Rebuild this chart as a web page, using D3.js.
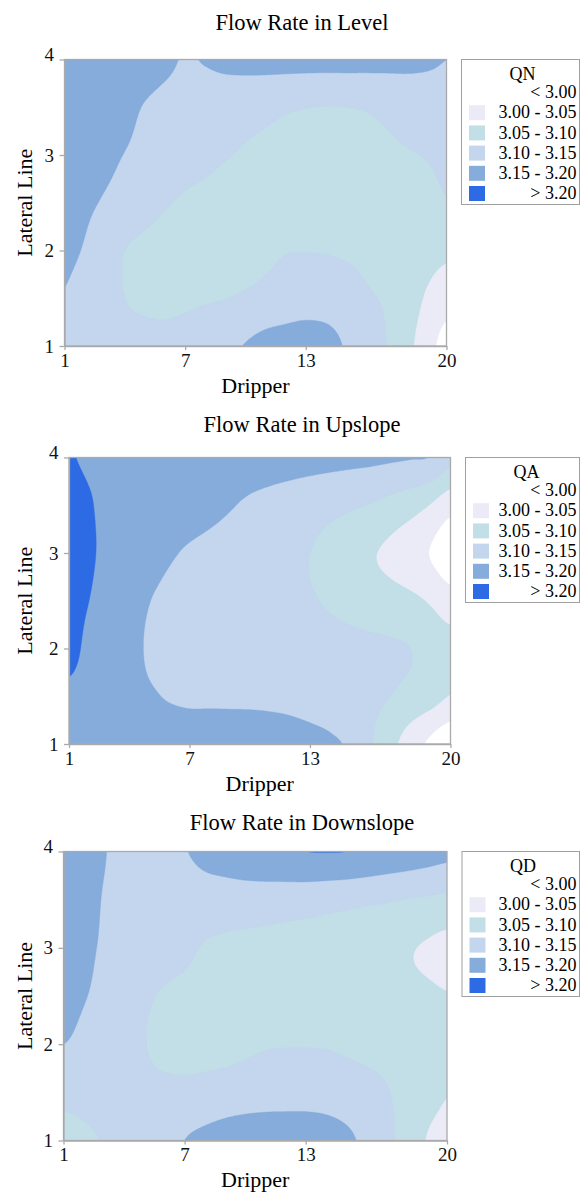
<!DOCTYPE html>
<html>
<head>
<meta charset="utf-8">
<script src="https://cdn.jsdelivr.net/npm/d3@7"></script>
<style>
body { margin: 0; background: #fff; }
svg { display: block; font-family: "Liberation Serif", "Times New Roman", serif; }
</style>
</head>
<body>
<svg id="chart" width="580" height="1193"></svg>
<script>
// positions at which the maps were read
const drippers = d3.range(1, 21);
const laterals = [1, 1.5, 2, 2.5, 3, 3.5, 4];

const thresholds = [3.00, 3.05, 3.10, 3.15, 3.20];
const bandLabels = ["< 3.00", "3.00 - 3.05", "3.05 - 3.10", "3.10 - 3.15", "3.15 - 3.20", "> 3.20"];
const bandColors = ["#ffffff", "#ebebf8", "#c2dfe8", "#c4d6ee", "#86acdb", "#2d6be5"];

const xTicks = [1, 7, 13, 20];
const yTicks = [1, 2, 3, 4];

// one row per lateral position (1 -> 4), one value per dripper (1 -> 20)
const qn = [
	[3.14, 3.13, 3.12, 3.115, 3.112, 3.112, 3.118, 3.13, 3.14, 3.152, 3.165, 3.172, 3.178, 3.172, 3.145, 3.122, 3.10, 3.065, 3.023, 2.98],
	[3.148, 3.135, 3.12, 3.10, 3.093, 3.09, 3.092, 3.096, 3.099, 3.106, 3.114, 3.12, 3.124, 3.122, 3.117, 3.105, 3.095, 3.075, 3.045, 3.022],
	[3.158, 3.147, 3.125, 3.10, 3.09, 3.083, 3.08, 3.078, 3.078, 3.082, 3.09, 3.098, 3.099, 3.098, 3.095, 3.09, 3.082, 3.075, 3.068, 3.06],
	[3.17, 3.158, 3.146, 3.133, 3.118, 3.104, 3.094, 3.088, 3.082, 3.078, 3.075, 3.073, 3.072, 3.072, 3.073, 3.075, 3.078, 3.082, 3.088, 3.097],
	[3.18, 3.172, 3.16, 3.149, 3.14, 3.13, 3.12, 3.112, 3.103, 3.095, 3.09, 3.087, 3.085, 3.085, 3.087, 3.09, 3.093, 3.097, 3.102, 3.108],
	[3.185, 3.178, 3.17, 3.16, 3.148, 3.14, 3.135, 3.13, 3.125, 3.118, 3.112, 3.105, 3.101, 3.099, 3.1, 3.103, 3.11, 3.118, 3.124, 3.13],
	[3.19, 3.185, 3.18, 3.175, 3.167, 3.157, 3.148, 3.152, 3.158, 3.162, 3.164, 3.165, 3.165, 3.165, 3.165, 3.164, 3.162, 3.16, 3.156, 3.15]
];

const qa = [
	[3.19, 3.187, 3.183, 3.18, 3.177, 3.175, 3.173, 3.172, 3.17, 3.168, 3.166, 3.163, 3.16, 3.155, 3.143, 3.105, 3.065, 3.025, 2.99, 2.96],
	[3.192, 3.185, 3.175, 3.165, 3.155, 3.147, 3.143, 3.143, 3.143, 3.143, 3.142, 3.14, 3.135, 3.128, 3.12, 3.11, 3.10, 3.085, 3.07, 3.048],
	[3.213, 3.19, 3.18, 3.165, 3.145, 3.14, 3.135, 3.132, 3.13, 3.128, 3.126, 3.123, 3.12, 3.116, 3.113, 3.11, 3.106, 3.10, 3.085, 3.07],
	[3.215, 3.20, 3.185, 3.17, 3.151, 3.14, 3.133, 3.128, 3.125, 3.122, 3.12, 3.11, 3.104, 3.095, 3.085, 3.075, 3.068, 3.06, 3.045, 3.02],
	[3.225, 3.205, 3.192, 3.18, 3.168, 3.155, 3.145, 3.138, 3.132, 3.126, 3.12, 3.113, 3.10, 3.085, 3.07, 3.055, 3.04, 3.02, 2.998, 2.97],
	[3.215, 3.203, 3.19, 3.185, 3.18, 3.175, 3.17, 3.162, 3.153, 3.144, 3.137, 3.13, 3.122, 3.114, 3.106, 3.098, 3.085, 3.07, 3.048, 3.017],
	[3.202, 3.195, 3.19, 3.185, 3.18, 3.178, 3.176, 3.174, 3.172, 3.17, 3.168, 3.166, 3.164, 3.162, 3.16, 3.158, 3.155, 3.152, 3.148, 3.115]
];

const qd = [
	[3.08, 3.092, 3.102, 3.11, 3.12, 3.13, 3.15, 3.16, 3.167, 3.172, 3.175, 3.177, 3.177, 3.172, 3.16, 3.138, 3.11, 3.085, 3.048, 3.035],
	[3.115, 3.116, 3.115, 3.113, 3.112, 3.112, 3.113, 3.118, 3.124, 3.128, 3.13, 3.13, 3.13, 3.128, 3.122, 3.115, 3.103, 3.085, 3.068, 3.052],
	[3.15, 3.14, 3.13, 3.12, 3.102, 3.086, 3.082, 3.081, 3.082, 3.09, 3.096, 3.098, 3.098, 3.097, 3.093, 3.088, 3.083, 3.078, 3.073, 3.068],
	[3.16, 3.152, 3.14, 3.125, 3.108, 3.095, 3.088, 3.083, 3.08, 3.078, 3.076, 3.075, 3.074, 3.073, 3.072, 3.07, 3.067, 3.063, 3.058, 3.052],
	[3.17, 3.158, 3.146, 3.138, 3.13, 3.122, 3.112, 3.096, 3.09, 3.087, 3.085, 3.083, 3.08, 3.078, 3.075, 3.07, 3.065, 3.055, 3.045, 3.035],
	[3.178, 3.165, 3.148, 3.14, 3.135, 3.132, 3.13, 3.13, 3.128, 3.127, 3.125, 3.122, 3.12, 3.116, 3.112, 3.108, 3.104, 3.099, 3.095, 3.09],
	[3.185, 3.17, 3.152, 3.14, 3.135, 3.138, 3.148, 3.16, 3.17, 3.18, 3.188, 3.195, 3.2, 3.201, 3.2, 3.193, 3.185, 3.178, 3.17, 3.162]
];

const panels = [
	{ title: "Flow Rate in Level", key: "QN", grid: qn, left: 64.5, right: 446.5, top: 59.5, bottom: 346, titleY: 29.5, labelY: 393 },
	{ title: "Flow Rate in Upslope", key: "QA", grid: qa, left: 69, right: 450.5, top: 457.5, bottom: 744, titleY: 431.5, labelY: 791 },
	{ title: "Flow Rate in Downslope", key: "QD", grid: qd, left: 63.5, right: 447, top: 851.5, bottom: 1140.5, titleY: 829.5, labelY: 1187 }
];

var nx = 380, ny = 300;

// catmull-rom between evenly spaced samples, t in sample units
function catmull(vals, t) {
	let n = vals.length,
		i = Math.min(Math.floor(t), n - 2),
		u = t - i;
	let p0 = vals[Math.max(i - 1, 0)], p1 = vals[i], p2 = vals[i + 1], p3 = vals[Math.min(i + 2, n - 1)];
	return 0.5 * (2 * p1 + (p2 - p0) * u + (2 * p0 - 5 * p1 + 4 * p2 - p3) * u * u + (3 * p1 - p0 - 3 * p2 + p3) * u * u * u);
}

function smooth(grid) {
	let dx = drippers[1] - drippers[0], dy = laterals[1] - laterals[0],
		x0 = drippers[0], x1 = drippers[drippers.length - 1],
		y0 = laterals[0], y1 = laterals[laterals.length - 1];
	let fine = grid.map(row => d3.range(nx).map(i => catmull(row, (x0 + (i + 0.5) / nx * (x1 - x0) - x0) / dx)));
	let values = new Float64Array(nx * ny);
	for (let i = 0; i < nx; i++) {
		let col = fine.map(r => r[i]);
		for (let j = 0; j < ny; j++)
			values[j * nx + i] = catmull(col, (y0 + (j + 0.5) / ny * (y1 - y0) - y0) / dy);
	}
	return values;
}

var svg = d3.select("#chart");

panels.forEach((p, k) => {
	let g = svg.append("g");

	let x = d3.scaleLinear().domain(d3.extent(drippers)).range([p.left, p.right]),
		y = d3.scaleLinear().domain(d3.extent(laterals)).range([p.bottom, p.top]);

	let [xa, xb] = x.domain(), [ya, yb] = y.domain();
	let path = d3.geoPath(d3.geoTransform({
		point(px, py) { this.stream.point(x(xa + px / nx * (xb - xa)), y(ya + py / ny * (yb - ya))); }
	}));

	g.append("clipPath")
		.attr("id", `clip${k}`)
		.append("rect")
			.attr("x", p.left).attr("y", p.top)
			.attr("width", p.right - p.left).attr("height", p.bottom - p.top);

	let map = g.append("g").attr("clip-path", `url(#clip${k})`);
	map.append("rect")
		.attr("x", p.left).attr("y", p.top)
		.attr("width", p.right - p.left).attr("height", p.bottom - p.top)
		.attr("fill", bandColors[0]);

	let contours = d3.contours().size([nx, ny]).thresholds(thresholds)(smooth(p.grid));
	map.selectAll("path")
		.data(contours)
		.enter().append("path")
		.attr("d", path)
		.attr("fill", (d, i) => bandColors[i + 1])
		.attr("stroke", (d, i) => bandColors[i + 1])
		.attr("stroke-width", 0.4);

	g.append("rect")
		.attr("x", p.left).attr("y", p.top)
		.attr("width", p.right - p.left).attr("height", p.bottom - p.top)
		.attr("fill", "none")
		.attr("stroke", "#aaaaaa")
		.attr("stroke-width", 1.3);

	let xAxis = g.append("g")
		.attr("transform", `translate(0, ${p.bottom})`)
		.call(d3.axisBottom(x).tickValues(xTicks).tickSize(4).tickSizeOuter(0).tickPadding(3.5).tickFormat(d3.format("d")));
	let yAxis = g.append("g")
		.attr("transform", `translate(${p.left}, 0)`)
		.call(d3.axisLeft(y).tickValues(yTicks).tickSize(5).tickSizeOuter(0).tickPadding(5.5).tickFormat(d3.format("d")));

	for (let a of [xAxis, yAxis]) {
		a.attr("font-family", null).attr("font-size", null);
		a.select(".domain").attr("stroke", "#aaaaaa").attr("stroke-width", 1.3);
		a.selectAll(".tick line").attr("stroke", "#aaaaaa").attr("stroke-width", 1.3);
		a.selectAll(".tick text").attr("font-size", "19px").attr("fill", "#111");
	}
	yAxis.selectAll(".tick text").attr("dy", d => d === 4 ? "0.05em" : "0.32em");

	g.append("text")
		.attr("x", 302)
		.attr("y", p.titleY)
		.attr("text-anchor", "middle")
		.attr("font-size", "22.5px")
		.text(p.title);

	g.append("text")
		.attr("x", (p.left + p.right) / 2)
		.attr("y", p.labelY)
		.attr("text-anchor", "middle")
		.attr("font-size", "22px")
		.text("Dripper");

	g.append("text")
		.attr("transform", `translate(32, ${(p.top + p.bottom) / 2}) rotate(-90)`)
		.attr("text-anchor", "middle")
		.attr("font-size", "22px")
		.text("Lateral Line");

	// legend
	let lx = p.right + 15,
		legend = g.append("g").attr("class", "legend");
	legend.append("rect")
		.attr("x", lx).attr("y", p.top)
		.attr("width", 579.5 - lx).attr("height", 145)
		.attr("fill", "#fff")
		.attr("stroke", "#a0a0a0");
	legend.append("text")
		.attr("x", lx + 61)
		.attr("y", p.top + 20)
		.attr("text-anchor", "middle")
		.attr("font-size", "18px")
		.text(p.key);
	bandLabels.forEach((label, i) => {
		if (i > 0)
			legend.append("rect")
				.attr("x", lx + 7.5)
				.attr("y", p.top + 25.5 + 20.2 * i)
				.attr("width", 16)
				.attr("height", 15)
				.attr("fill", bandColors[i]);
		legend.append("text")
			.attr("x", 576.5)
			.attr("y", p.top + 38.7 + 20.2 * i)
			.attr("text-anchor", "end")
			.attr("font-size", "18px")
			.text(label);
	});
});
</script>
</body>
</html>
